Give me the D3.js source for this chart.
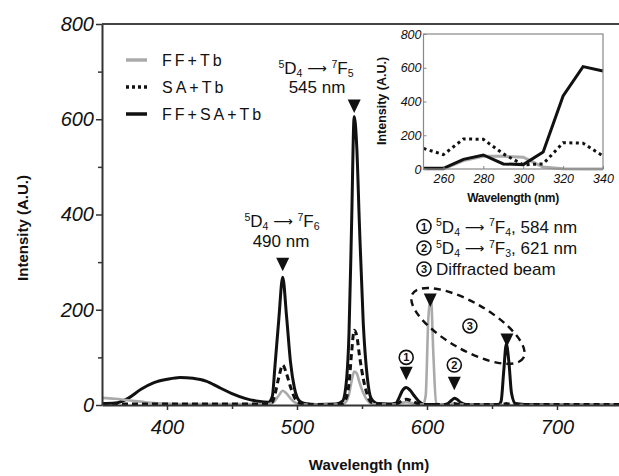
<!DOCTYPE html>
<html>
<head>
<meta charset="utf-8">
<script src="https://cdn.jsdelivr.net/npm/d3@7"></script>
<style>
  body { margin: 0; background: #fff; }
  svg text { font-family: "Liberation Sans", Arial, sans-serif; fill: #111; }
</style>
</head>
<body>
<div id="main"></div>
<script>
// emission spectra (main plot)
var wl = [350,360,370,380,390,400,410,420,430,440,
          450,460,470,478,481,483,486,489,492,495,
          498,502,506,515,530,535,538,540,542,544,
          546,548,551,554,557,562,570,576,579,581,
          584,587,590,594,597,599,601,603,605,607,
          612,616,619,621,623,626,630,645,655,657,
          659,661,663,665,668,675,700,750];
var ffSaTb = [3,4,14,33,47,54,58,56,50,37,
              24,14,8,6,18,80,180,268,185,90,
              36,8,3,1,2,8,50,150,380,606,
              540,380,170,60,14,3,2,4,18,30,
              37,31,20,7,2,1,1,1,1,1,
              1,3,10,14,12,5,1,0,1,8,
              70,128,90,25,3,1,0,0];
var saTb = [2,2,2,2,2,2,2,2,2,2,
            2,2,2,3,6,22,58,84,65,38,
            16,4,2,1,1,3,15,45,110,157,
            145,105,55,22,6,2,1,2,6,10,
            12,10,6,2,1,1,1,1,1,1,
            1,1,2,3,2,1,1,1,1,1,
            2,3,2,1,1,1,1,1];
var ffTb = [15,13,10,7,4,3,2,2,2,2,
            2,2,2,2,4,9,20,30,24,14,
            6,2,1,1,1,2,8,22,50,70,
            66,48,25,10,3,1,1,1,3,5,
            6,5,3,1,1,20,180,226,100,3,
            1,1,2,3,2,1,1,0,0,0,
            0,1,0,0,0,0,0,0];

// excitation spectra (inset)
var exWl = [250,260,270,280,290,300,310,320,330,340];
var exFfTb = [0,0,50,75,75,70,12,2,0,0];
var exSaTb = [122,85,178,176,90,25,30,156,153,77];
var exFfSaTb = [4,4,57,83,30,26,100,433,607,581];

// peak markers and labels
var markerWl = [489, 544, 584, 602.5, 621, 661.5];
var markerTip = [281, 613, 52, 206, 31, 122];
var circleWl = [584, 621, 633];
var circleVal = [100, 84, 166];
var circleText = ["1", "2", "3"];

var xTicks = [400, 500, 600, 700];
var xMinor = [450, 550, 650];
var yTicks = [0, 200, 400, 600, 800];
var yMinor = [100, 300, 500, 700];
var exXTicks = [260, 280, 300, 320, 340];
var exYTicks = [0, 200, 400, 600, 800];

var width = 619, height = 476;
var plot = { left: 102, right: 622, top: 24, bottom: 405 };

var SVG = d3.select("#main").append("svg")
  .attr("width", width)
  .attr("height", height);

var x = d3.scaleLinear().domain([350, 750]).range([plot.left, plot.right]);
var y = d3.scaleLinear().domain([0, 800]).range([plot.bottom, plot.top]);

SVG.append("defs").append("clipPath").attr("id", "clip")
  .append("rect")
  .attr("x", plot.left).attr("y", plot.top - 2)
  .attr("width", plot.right - plot.left).attr("height", plot.bottom - plot.top + 2);

// curves
function spectrum(vals) {
  return d3.line()
    .x(function (d, i) { return x(wl[i]); })
    .y(function (d) { return y(d); })
    .curve(d3.curveMonotoneX)(vals);
}

var curves = SVG.append("g").attr("clip-path", "url(#clip)");
curves.append("path").attr("d", spectrum(ffSaTb))
  .attr("fill", "none").attr("stroke", "#111").attr("stroke-width", 3);
curves.append("path").attr("d", spectrum(ffTb))
  .attr("fill", "none").attr("stroke", "#aaa").attr("stroke-width", 2.6);
curves.append("path").attr("d", spectrum(saTb))
  .attr("fill", "none").attr("stroke", "#111").attr("stroke-width", 3)
  .attr("stroke-dasharray", "6,4");

// axes
function styleAxis(g, size) {
  g.select(".domain").attr("stroke", "#333").attr("stroke-width", 2);
  g.selectAll(".tick line").attr("stroke", "#333").attr("stroke-width", 1.5);
  g.selectAll(".tick text")
    .style("font-style", "italic")
    .style("font-size", size + "px")
    .attr("fill", "#111");
}

var yAxis = SVG.append("g")
  .attr("transform", "translate(" + plot.left + ",0)")
  .call(d3.axisLeft(y).tickValues(yTicks).tickSizeInner(6).tickSizeOuter(0).tickPadding(2));
styleAxis(yAxis, 20);
SVG.append("g")
  .attr("transform", "translate(" + plot.left + ",0)")
  .call(d3.axisLeft(y).tickValues(yMinor).tickSizeInner(4).tickSizeOuter(0).tickFormat(""))
  .call(function (g) { g.select(".domain").remove(); g.selectAll("line").attr("stroke", "#333").attr("stroke-width", 1.5); });

var xAxis = SVG.append("g")
  .attr("transform", "translate(0," + plot.bottom + ")")
  .call(d3.axisBottom(x).tickValues(xTicks).tickSizeInner(5).tickSizeOuter(0).tickPadding(10));
styleAxis(xAxis, 20);
SVG.append("g")
  .attr("transform", "translate(0," + plot.bottom + ")")
  .call(d3.axisBottom(x).tickValues(xMinor).tickSizeInner(4).tickSizeOuter(0).tickFormat(""))
  .call(function (g) { g.select(".domain").remove(); g.selectAll("line").attr("stroke", "#333").attr("stroke-width", 1.5); });

// top border
SVG.append("line")
  .attr("x1", plot.left).attr("x2", width)
  .attr("y1", plot.top).attr("y2", plot.top)
  .attr("stroke", "#444").attr("stroke-width", 2);

// axis titles
SVG.append("text")
  .attr("transform", "translate(28,228) rotate(-90)")
  .attr("text-anchor", "middle")
  .style("font-size", "15px").style("font-weight", "bold")
  .text("Intensity (A.U.)");
SVG.append("text")
  .attr("x", 369).attr("y", 470)
  .attr("text-anchor", "middle")
  .style("font-size", "15px").style("font-weight", "bold")
  .text("Wavelength (nm)");

// legend
var legendNames = ["FF+Tb", "SA+Tb", "FF+SA+Tb"];
var legendColor = ["#aaa", "#111", "#111"];
var legendDash = [null, "3,3", null];
legendNames.forEach(function (name, i) {
  var ly = 60 + i * 27;
  SVG.append("line")
    .attr("x1", 126).attr("x2", 147).attr("y1", ly).attr("y2", ly)
    .attr("stroke", legendColor[i]).attr("stroke-width", 3.5)
    .attr("stroke-dasharray", legendDash[i]);
  SVG.append("text")
    .attr("x", 162).attr("y", ly + 6)
    .style("font-size", "16px").style("letter-spacing", "3px")
    .text(name);
});

// term symbol  5D4 -> 7Fj
function termLabel(t, lower, size) {
  var s = size * 0.62;
  t.append("tspan").attr("dy", -size * 0.38).style("font-size", s + "px").text("5");
  t.append("tspan").attr("dy", size * 0.38).text("D");
  t.append("tspan").attr("dy", size * 0.2).style("font-size", s + "px").text("4");
  t.append("tspan").attr("dy", -size * 0.2).text(" ");
  t.append("tspan").style("font-family", "'DejaVu Sans'").style("font-size", (size * 0.8) + "px")
    .attr("dy", -size * 0.03).text("\u27F6");
  t.append("tspan").attr("dy", size * 0.03).text(" ");
  t.append("tspan").attr("dy", -size * 0.38).style("font-size", s + "px").text("7");
  t.append("tspan").attr("dy", size * 0.38).text("F");
  t.append("tspan").attr("dy", size * 0.2).style("font-size", s + "px").text(lower);
  return t;
}

var annSize = 17;
var a1 = SVG.append("text").attr("x", 316).attr("y", 74).attr("text-anchor", "middle").style("font-size", annSize + "px");
termLabel(a1, "5", annSize);
SVG.append("text").attr("x", 317).attr("y", 93).attr("text-anchor", "middle").style("font-size", annSize + "px").text("545 nm");
var a2 = SVG.append("text").attr("x", 282).attr("y", 227).attr("text-anchor", "middle").style("font-size", annSize + "px");
termLabel(a2, "6", annSize);
SVG.append("text").attr("x", 281).attr("y", 247).attr("text-anchor", "middle").style("font-size", annSize + "px").text("490 nm");

// circled list
function circledNum(cx, cy, n) {
  SVG.append("circle").attr("cx", cx).attr("cy", cy).attr("r", 7)
    .attr("fill", "#fff").attr("stroke", "#111").attr("stroke-width", 1.6);
  SVG.append("text").attr("x", cx).attr("y", cy + 4)
    .attr("text-anchor", "middle")
    .style("font-size", "11px").style("font-weight", "bold")
    .text(n);
}
var listY = [232.5, 254, 275];
circledNum(424, listY[0] - 6, "1");
var l1 = SVG.append("text").attr("x", 436).attr("y", listY[0]).style("font-size", annSize + "px");
termLabel(l1, "4", annSize);
l1.append("tspan").attr("dy", -annSize * 0.2).text(", 584 nm");
circledNum(424, listY[1] - 6, "2");
var l2 = SVG.append("text").attr("x", 436).attr("y", listY[1]).style("font-size", annSize + "px");
termLabel(l2, "3", annSize);
l2.append("tspan").attr("dy", -annSize * 0.2).text(", 621 nm");
circledNum(424, listY[2] - 6, "3");
SVG.append("text").attr("x", 436).attr("y", listY[2]).style("font-size", annSize + "px").text("Diffracted beam");

// dashed ellipse round the diffracted beam peaks
SVG.append("ellipse")
  .attr("transform", "translate(" + x(631.5) + "," + y(166) + ") rotate(30)")
  .attr("rx", 64).attr("ry", 23.5)
  .attr("fill", "none").attr("stroke", "#111").attr("stroke-width", 2.4)
  .attr("stroke-dasharray", "7,5");

// peak markers
markerWl.forEach(function (w, i) {
  var mx = x(w), my = y(markerTip[i]);
  SVG.append("path")
    .attr("d", "M" + (mx - 6.5) + "," + (my - 13.5) + "L" + (mx + 6.5) + "," + (my - 13.5) + "L" + mx + "," + my + "Z")
    .attr("fill", "#111");
});
circleWl.forEach(function (w, i) {
  circledNum(x(w), y(circleVal[i]), circleText[i]);
});

// inset
var ix = d3.scaleLinear().domain([250, 340]).range([423.5, 603]);
var iy = d3.scaleLinear().domain([0, 800]).range([169, 34]);

SVG.append("rect")
  .attr("x", 423.5).attr("y", 34).attr("width", 603 - 423.5).attr("height", 169 - 34)
  .attr("fill", "#fff");

function exLine(vals) {
  return d3.line()
    .x(function (d, i) { return ix(exWl[i]); })
    .y(function (d) { return iy(d); })(vals);
}
var inset = SVG.append("g");
inset.append("path").attr("d", exLine(exFfTb))
  .attr("fill", "none").attr("stroke", "#aaa").attr("stroke-width", 3);
inset.append("path").attr("d", exLine(exSaTb))
  .attr("fill", "none").attr("stroke", "#111").attr("stroke-width", 3)
  .attr("stroke-dasharray", "3,3.5");
inset.append("path").attr("d", exLine(exFfSaTb))
  .attr("fill", "none").attr("stroke", "#111").attr("stroke-width", 3);

SVG.append("rect")
  .attr("x", 423.5).attr("y", 34).attr("width", 603 - 423.5).attr("height", 169 - 34)
  .attr("fill", "none").attr("stroke", "#888").attr("stroke-width", 1.2);

var exY = SVG.append("g")
  .attr("transform", "translate(423.5,0)")
  .call(d3.axisLeft(iy).tickValues(exYTicks).tickSizeInner(-3).tickSizeOuter(0).tickPadding(2));
exY.select(".domain").remove();
exY.selectAll(".tick line").attr("stroke", "#888");
exY.selectAll(".tick text").style("font-style", "italic").style("font-size", "12.5px").attr("fill", "#111");

var exX = SVG.append("g")
  .attr("transform", "translate(0,169)")
  .call(d3.axisBottom(ix).tickValues(exXTicks).tickSizeInner(-3).tickSizeOuter(0).tickPadding(5));
exX.select(".domain").remove();
exX.selectAll(".tick line").attr("stroke", "#888");
exX.selectAll(".tick text").style("font-style", "italic").style("font-size", "12.5px").attr("fill", "#111");

SVG.append("text")
  .attr("transform", "translate(386,101) rotate(-90)")
  .attr("text-anchor", "middle")
  .style("font-size", "12.5px").style("font-weight", "bold")
  .text("Intensity (A.U.)");
SVG.append("text")
  .attr("x", 513).attr("y", 202)
  .attr("text-anchor", "middle")
  .style("font-size", "12px").style("font-weight", "bold")
  .style("letter-spacing", "-0.3px")
  .text("Wavelength (nm)");
</script>
</body>
</html>
